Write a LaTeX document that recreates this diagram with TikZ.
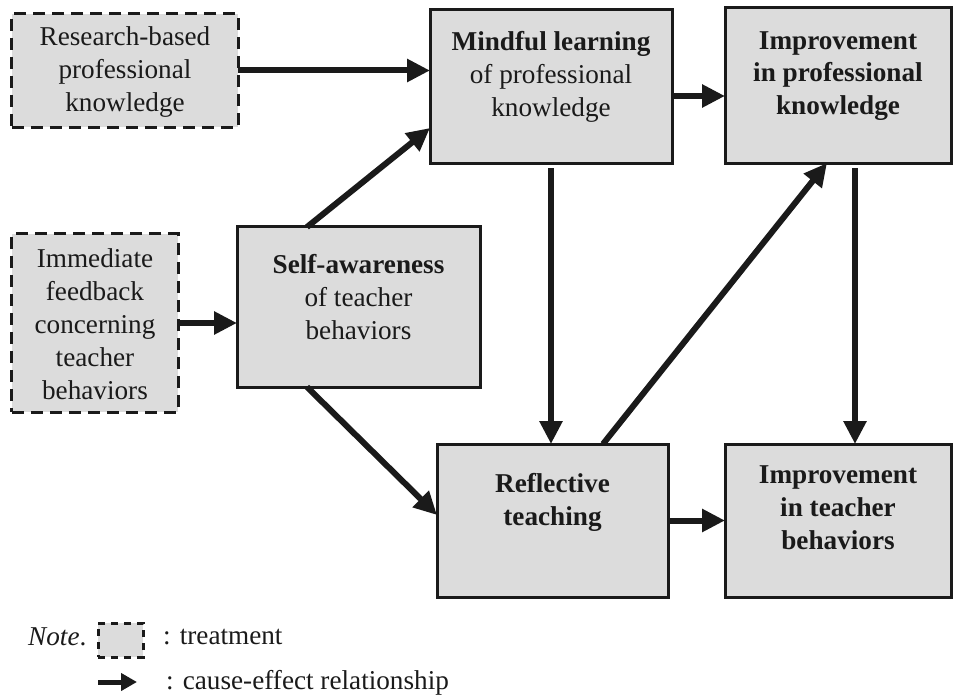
\documentclass[tikz,border=0pt]{standalone}
\usepackage{fontspec}
\setmainfont{Liberation Serif}
\usetikzlibrary{arrows.meta,calc}
\definecolor{boxfill}{HTML}{DCDCDC}
\definecolor{ink}{HTML}{1A1A1A}
\tikzset{
  solidbox/.style={draw=ink, fill=boxfill, line width=3bp, inner sep=0pt, outer sep=0pt},
  treatbox/.style={draw=ink, fill=boxfill, line width=3bp, inner sep=0pt, outer sep=0pt,
                   dash pattern=on 12bp off 7bp},
  smalltreat/.style={draw=ink, fill=boxfill, line width=3bp, inner sep=0pt, outer sep=0pt,
                   dash pattern=on 7bp off 6bp},
  txt/.style={align=center, font=\fontsize{27.3}{33}\selectfont, text=ink, inner sep=0pt},
  cause/.style={draw=ink, line width=6bp, -{Triangle[length=23bp,width=22bp]}},
  legarrow/.style={draw=ink, line width=5bp, -{Triangle[length=16bp,width=17bp]}}
}
\begin{document}
\begin{tikzpicture}[x=1bp,y=-1bp]
\useasboundingbox (0,0) rectangle (955,697);
% boxes
\node[treatbox, minimum width=226bp, minimum height=113bp] (research) at (125,70.5) {};
\node[solidbox, minimum width=242bp, minimum height=153bp] (mindful) at (551,86.5) {};
\node[solidbox, minimum width=226bp, minimum height=155bp] (impk) at (838,85.5) {};
\node[treatbox, minimum width=166bp, minimum height=178bp] (immediate) at (95,323) {};
\node[solidbox, minimum width=243bp, minimum height=160bp] (self) at (358.5,307) {};
\node[solidbox, minimum width=231bp, minimum height=153bp] (reflective) at (552.5,520.5) {};
\node[solidbox, minimum width=226bp, minimum height=153bp] (impt) at (838,520.5) {};
% texts
\node[txt] (researchT) at (125,72) {Research-based\\professional\\knowledge};
\node[txt] (mindfulT) at (551,77) {\textbf{Mindful learning}\\of professional\\knowledge};
\node[txt] (impkT) at (838,76) {\textbf{Improvement}\\\textbf{in professional}\\\textbf{knowledge}};
\node[txt] (immediateT) at (95,324) {Immediate\\feedback\\concerning\\teacher\\behaviors};
\node[txt] (selfT) at (358.5,297) {\textbf{Self-awareness}\\of teacher\\behaviors};
\node[txt] (reflectiveT) at (552.5,502) {\textbf{Reflective}\\\textbf{teaching}};
\node[txt] (imptT) at (838,508) {\textbf{Improvement}\\\textbf{in teacher}\\\textbf{behaviors}};
% connector anchors
\coordinate (mE) at ($(mindful.east)+(0,9.5)$);
\coordinate (sTop) at ($(self.north west)+(70,0)$);
\coordinate (mIn) at ($(mindful.north west)+(0,118)$);
\coordinate (sBot) at ($(self.south west)+(70,0)$);
\coordinate (rIn) at ($(reflective.north west)+(0,71)$);
\coordinate (kBot) at ($(impk.south)+(17,0)$);
\coordinate (rTop) at ($(reflective.north west)+(166,0)$);
\coordinate (kIn) at ($(impk.south west)+(102,0)$);
% connectors
\draw[cause] (research.east) -- (research.east -| mindful.west);
\draw[cause] (mE) -- (mE -| impk.west);
\draw[cause] (immediate.east) -- (immediate.east -| self.west);
\draw[cause] (sTop) -- (mIn);
\draw[cause] (sBot) -- (rIn);
\draw[cause, shorten <=5bp] (mindful.south) -- (mindful.south |- reflective.north);
\draw[cause, shorten <=5bp] (kBot) -- (kBot |- impt.north);
\draw[cause] (rTop) -- (kIn);
\draw[cause] (reflective.east) -- (reflective.east -| impt.west);
% legend
\node[txt, anchor=west] (note) at (28,637) {\textit{Note}.};
\node[smalltreat, minimum width=45bp, minimum height=34bp] (legbox) at (120.5,640) {};
\node[txt, anchor=west] (legtreat) at (163,637) {: treatment};
\coordinate (la) at (98,682);
\coordinate (lb) at (137,682);
\draw[legarrow] (la) -- (lb);
\node[txt, anchor=west] (legcause) at (166,683) {: cause-effect relationship};
\end{tikzpicture}
\end{document}
